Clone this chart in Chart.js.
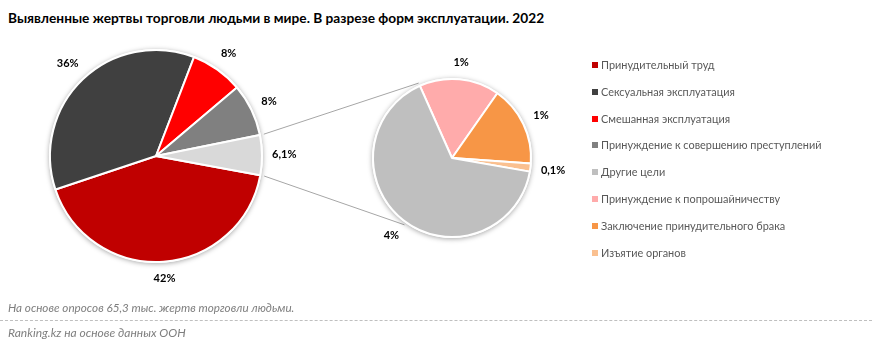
<!DOCTYPE html>
<html>
<head>
<meta charset="utf-8">
<script src="https://cdn.jsdelivr.net/npm/chart.js@4.4.1/dist/chart.umd.min.js"></script>
<style>
  body { margin: 0; background: #fff; font-family: Lato, "Open Sans", sans-serif; }
  #wrap { position: relative; width: 872px; height: 345px; overflow: hidden; }
  .layer { position: absolute; left: 0; top: 0; width: 872px; height: 345px; }
  #title { position: absolute; left: 8px; top: 9px; font-size: 13.7px; font-weight: bold; color: #000; white-space: nowrap; }
  #legend { position: absolute; left: 592px; top: 58px; font-size: 10.9px; color: #595959; }
  #legend div { height: 26.8px; white-space: nowrap; }
  #legend span { display: inline-block; width: 6px; height: 6px; margin-right: 3px; vertical-align: 1px; }
  #note { position: absolute; left: 8px; top: 300px; font-size: 11.7px; font-style: italic; color: #7f7f7f; }
  #src { position: absolute; left: 8px; top: 325px; font-size: 12px; font-style: italic; color: #7f7f7f; }
  #dash { position: absolute; left: 0; top: 320px; width: 872px; border-top: 1px dashed #bfbfbf; }
</style>
</head>
<body>
<div id="wrap">
  <div id="title">Выявленные жертвы торговли людьми в мире. В разрезе форм эксплуатации. 2022</div>
  <div class="layer"><canvas id="mainPie"></canvas></div>
  <div class="layer"><canvas id="subPie"></canvas></div>
  <div id="legend"></div>
  <div id="note">На основе опросов 65,3 тыс. жертв торговли людьми.</div>
  <div id="dash"></div>
  <div id="src">Ranking.kz на основе данных ООН</div>
</div>
<script>
// первый круг
const mainLabels = ['Принудительный труд', 'Сексуальная эксплуатация', 'Смешанная эксплуатация', 'Принуждение к совершению преступлений', 'Другие цели'];
const mainValues = [42, 36, 8, 8, 6.1];
const mainText = ['42%', '36%', '8%', '8%', '6,1%'];
const mainColors = ['#C00000', '#404040', '#FF0000', '#808080', '#D9D9D9'];

// второй круг (расшифровка 6,1%)
const subLabels = ['Принуждение к попрошайничеству', 'Заключение принудительного брака', 'Изъятие органов', 'Другие цели'];
const subValues = [1, 1, 0.1, 4];
const subText = ['1%', '1%', '0,1%', '4%'];
const subColors = ['#FFABAB', '#F79646', '#FAC090', '#BFBFBF'];

// легенда
const legendLabels = ['Принудительный труд', 'Сексуальная эксплуатация', 'Смешанная эксплуатация', 'Принуждение к совершению преступлений', 'Другие цели', 'Принуждение к попрошайничеству', 'Заключение принудительного брака', 'Изъятие органов'];
const legendColors = ['#C00000', '#404040', '#FF0000', '#808080', '#BFBFBF', '#FFABAB', '#F79646', '#FAC090'];

const legendEl = document.getElementById('legend');
legendLabels.forEach((l, i) => {
  const row = document.createElement('div');
  row.innerHTML = '<span style="background:' + legendColors[i] + '"></span>' + l;
  legendEl.appendChild(row);
});

Chart.defaults.font.family = 'Lato, "Open Sans", sans-serif';

// подписи снаружи круга
const outLabels = {
  id: 'outLabels',
  afterDatasetsDraw(chart, args, opts) {
    const ctx = chart.ctx;
    const texts = opts.texts;
    ctx.save();
    ctx.font = 'bold 11px Lato, "Open Sans", sans-serif';
    ctx.fillStyle = '#000';
    ctx.textAlign = 'center';
    ctx.textBaseline = 'middle';
    chart.getDatasetMeta(0).data.forEach((arc, i) => {
      const p = arc.getProps(['x', 'y', 'startAngle', 'endAngle', 'outerRadius'], true);
      const a = (p.startAngle + p.endAngle) / 2;
      const w = ctx.measureText(texts[i]).width;
      const d = p.outerRadius + 10 + (w / 2) * Math.abs(Math.cos(a)) + 6 * Math.abs(Math.sin(a));
      ctx.fillText(texts[i], p.x + Math.cos(a) * d, p.y + Math.sin(a) * d);
    });
    ctx.restore();
  }
};

// соединительные линии между кругами
const connectors = {
  id: 'connectors',
  beforeDatasetsDraw(chart) {
    const left = Chart.getChart('mainPie');
    if (!left) return;
    const la = left.getDatasetMeta(0).data[4].getProps(['x', 'y', 'startAngle', 'endAngle', 'outerRadius'], true);
    const ra = chart.getDatasetMeta(0).data[0].getProps(['x', 'y', 'startAngle', 'outerRadius'], true);
    const lr = la.outerRadius + 4;
    const rr = ra.outerRadius + 3;
    const topR = ra.startAngle;
    const botR = 125.4 * Math.PI / 180;
    const ctx = chart.ctx;
    ctx.save();
    ctx.strokeStyle = '#A6A6A6';
    ctx.lineWidth = 1;
    ctx.beginPath();
    ctx.moveTo(la.x + Math.cos(la.startAngle) * lr, la.y + Math.sin(la.startAngle) * lr);
    ctx.lineTo(ra.x + Math.cos(topR) * rr, ra.y + Math.sin(topR) * rr);
    ctx.moveTo(la.x + Math.cos(la.endAngle) * lr, la.y + Math.sin(la.endAngle) * lr);
    ctx.lineTo(ra.x + Math.cos(botR) * rr, ra.y + Math.sin(botR) * rr);
    ctx.stroke();
    ctx.restore();
  }
};

// лёгкая тень под кругом
const pieShadow = {
  id: 'pieShadow',
  beforeDatasetsDraw(chart) {
    const arc = chart.getDatasetMeta(0).data[0];
    if (!arc) return;
    const ctx = chart.ctx;
    ctx.save();
    ctx.beginPath();
    ctx.arc(arc.x, arc.y, arc.outerRadius + 1, 0, Math.PI * 2);
    ctx.shadowColor = 'rgba(0,0,0,0.35)';
    ctx.shadowBlur = 5;
    ctx.shadowOffsetY = 1;
    ctx.fillStyle = '#fff';
    ctx.fill();
    ctx.restore();
  }
};

function pieOptions(pad, rotation, texts) {
  return {
    responsive: true,
    maintainAspectRatio: false,
    animation: false,
    events: [],
    rotation: rotation,
    layout: { padding: pad },
    plugins: {
      legend: { display: false },
      tooltip: { enabled: false },
      outLabels: { texts: texts }
    }
  };
}

new Chart(document.getElementById('mainPie'), {
  type: 'pie',
  data: {
    labels: mainLabels,
    datasets: [{ data: mainValues, backgroundColor: mainColors, borderColor: '#fff', borderWidth: 2 }]
  },
  options: pieOptions({ left: 49, top: 49, right: 609, bottom: 82 }, 100.5, mainText),
  plugins: [pieShadow, outLabels]
});

new Chart(document.getElementById('subPie'), {
  type: 'pie',
  data: {
    labels: subLabels,
    datasets: [{ data: subValues, backgroundColor: subColors, borderColor: '#fff', borderWidth: 2 }]
  },
  options: pieOptions({ left: 372, top: 78, right: 340, bottom: 107 }, -24, subText),
  plugins: [connectors, pieShadow, outLabels]
});
</script>
</body>
</html>
